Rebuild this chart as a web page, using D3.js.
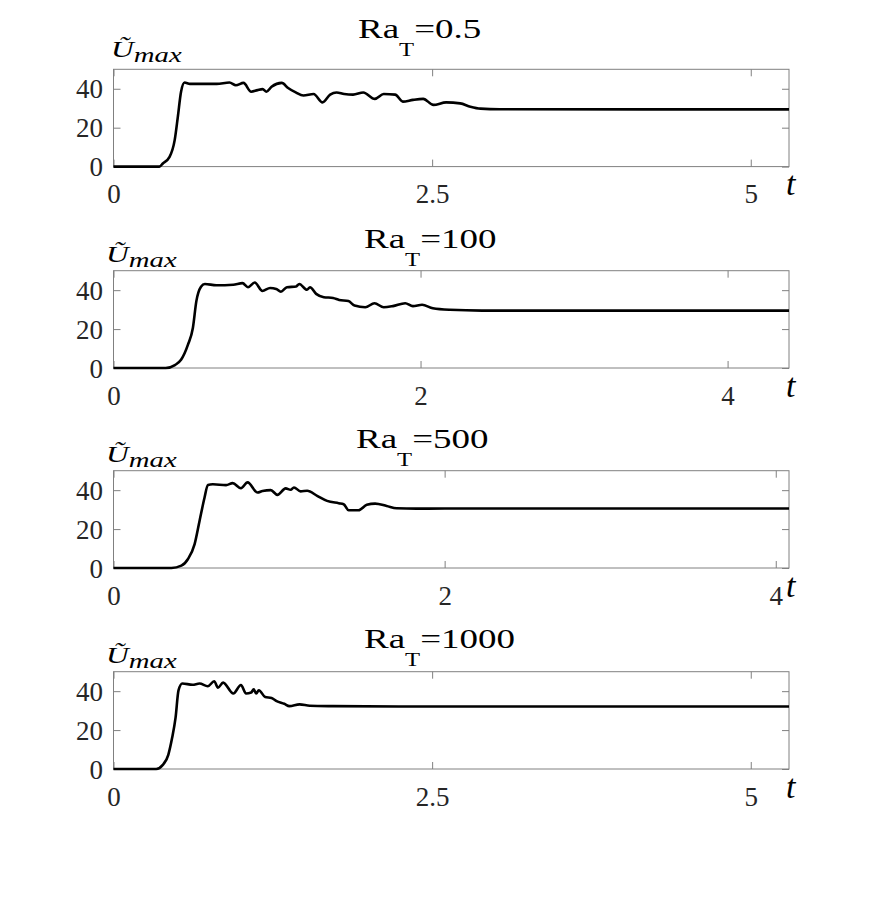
<!DOCTYPE html>
<html><head><meta charset="utf-8">
<script src="https://cdn.jsdelivr.net/npm/d3@7"></script>
<style>body{margin:0;background:#fff}svg{display:block}</style>
</head><body>
<script>
// ---- data ----
const titles = ["0.5", "100", "500", "1000"];
const xMax = [5.3, 4.4, 4.08, 5.3];
const xTicks = [[0, 2.5, 5], [0, 2, 4], [0, 2, 4], [0, 2.5, 5]];
const xTickLabels = [["0", "2.5", "5"], ["0", "2", "4"], ["0", "2", "4"], ["0", "2.5", "5"]];
const yTicks = [0, 20, 40];
const yTickLabels = ["0", "20", "40"];

const t1 = [0,0.36,0.387,0.44,0.48,0.505,0.53,0.558,0.6,0.81,0.91,0.96,1.02,1.08,1.13,1.17,1.2,1.24,1.32,1.37,1.43,1.49,1.57,1.64,1.70,1.75,1.81,1.88,1.96,2.05,2.12,2.21,2.27,2.35,2.43,2.51,2.61,2.72,2.80,2.88,3.03,5.3];
const u1 = [0,0,1.6,5,13.6,25.7,38.5,43.2,42.5,42.5,43.2,41.8,43,38.5,39.3,39.8,38.5,41,43,40.4,38.1,36.5,37.3,33,37,38.1,37.3,37,38.1,34.8,37.3,37,33.4,34.3,34.8,31.7,33,32.5,30.8,29.8,29.5,29.4];

const t2 = [0,0.34,0.40,0.44,0.485,0.517,0.54,0.57,0.595,0.67,0.78,0.84,0.876,0.92,0.97,1.02,1.06,1.09,1.13,1.19,1.21,1.26,1.28,1.32,1.37,1.43,1.47,1.53,1.57,1.64,1.70,1.76,1.82,1.90,1.95,2.01,2.08,2.19,2.4,4.4];
const u2 = [0,0,1.5,4.2,12,20.6,34.5,41.8,43.2,42.5,42.8,43.6,41.5,43.9,39.6,41.1,40.6,39.2,41.5,41.9,43.2,40.2,41.5,38.1,36.4,36,35,34.4,32.1,31.2,33.3,31.2,31.8,33.3,31.8,32.5,30.7,29.9,29.5,29.5];

const t3 = [0,0.35,0.41,0.45,0.49,0.52,0.55,0.57,0.60,0.68,0.72,0.77,0.81,0.87,0.90,0.95,0.99,1.04,1.07,1.09,1.13,1.17,1.23,1.29,1.36,1.39,1.42,1.48,1.53,1.58,1.65,1.71,1.83,2.0,4.08];
const u3 = [0,0,1.2,4.6,12.3,24.3,36.2,42.7,43,42.6,43.6,41,44,38.8,39.6,40,37.6,40.9,40.2,41.4,39.4,39.7,37.1,34.5,33.3,32.8,29.7,29.7,32.5,33.1,31.9,30.7,30.5,30.6,30.6];

const t4 = [0,0.335,0.387,0.43,0.46,0.487,0.51,0.54,0.62,0.675,0.74,0.79,0.82,0.86,0.94,1.0,1.04,1.08,1.10,1.12,1.14,1.19,1.24,1.28,1.34,1.38,1.46,1.54,1.72,2.24,5.3];
const u4 = [0,0,2.1,7.3,16,26.4,40.4,43.9,43.3,43.9,42.5,45.1,41.8,44.4,38.8,43.2,38.8,39.3,40.9,38.8,40.5,37,36.5,34.9,33.5,32.3,33.2,32.5,32.3,32.1,32.1];

const series = [[t1, u1], [t2, u2], [t3, u3], [t4, u4]];

// ---- layout ----
const W = 872, H = 917;
const left = 113.5, right = 789;
const tops = [69.3, 270.7, 470.7, 671.7];
const ph = 97.3;
const titleX = [358, 364, 356, 364];
const titleY = [38.3, 248, 448, 648];
const labelY = [56.5, 261.7, 461.7, 662.7];
const labelX = [111, 106, 106, 106];
const stretch = 1.37;
const axisColor = "#808080";
const serif = "'Liberation Serif','Times New Roman',serif";

const svg = d3.select("body").append("svg").attr("width", W).attr("height", H);

series.forEach(([ts, us], i) => {
  const top = tops[i], bottom = top + ph;
  const x = d3.scaleLinear().domain([0, xMax[i]]).range([left, right]);
  const y = d3.scaleLinear().domain([0, 50]).range([bottom, top]);
  const g = svg.append("g");

  // box
  g.append("rect").attr("x", left).attr("y", top).attr("width", right - left).attr("height", ph)
    .attr("fill", "none").attr("stroke", axisColor).attr("stroke-width", 1);

  // axes (inside ticks, mirrored)
  const fmtX = (d) => xTickLabels[i][xTicks[i].indexOf(d)];
  const fmtY = (d) => yTickLabels[yTicks.indexOf(d)];
  const axB = g.append("g").attr("transform", `translate(0,${bottom})`)
    .call(d3.axisBottom(x).tickValues(xTicks[i]).tickSize(-7).tickFormat(fmtX));
  const axT = g.append("g").attr("transform", `translate(0,${top})`)
    .call(d3.axisTop(x).tickValues(xTicks[i]).tickSize(-7).tickFormat(""));
  const axL = g.append("g").attr("transform", `translate(${left},0)`)
    .call(d3.axisLeft(y).tickValues(yTicks).tickSize(-7).tickPadding(10.5).tickFormat(fmtY));
  const axR = g.append("g").attr("transform", `translate(${right},0)`)
    .call(d3.axisRight(y).tickValues(yTicks).tickSize(-7).tickFormat(""));
  [axB, axT, axL, axR].forEach(a => {
    a.select(".domain").remove();
    a.selectAll("line").attr("stroke", axisColor);
    a.selectAll("text").attr("fill", "#262626").style("font-family", serif).style("font-size", "27px");
  });
  axL.selectAll("text").attr("dy", "0.34em");
  axB.selectAll("text").attr("y", 36.5).attr("dy", 0);

  // curve
  const line = d3.line().x((d, k) => x(ts[k])).y((d, k) => y(us[k])).curve(d3.curveMonotoneX);
  g.append("path").datum(us).attr("d", line).attr("fill", "none")
    .attr("stroke", "#000").attr("stroke-width", 2.6).attr("stroke-linejoin", "round");

  // title (horizontally stretched serif, as in the reference)
  const tt = g.append("text").attr("transform", `translate(${titleX[i]},${titleY[i]}) scale(${stretch},1)`)
    .style("font-family", serif).style("font-size", "27px").attr("fill", "#000");
  tt.append("tspan").text("Ra");
  tt.append("tspan").attr("dy", 18).style("font-size", "18px").text("T");
  tt.append("tspan").attr("dy", -18).text("=" + titles[i]);

  // y label
  const yl = g.append("text").attr("transform", `translate(${labelX[i]},${labelY[i]}) scale(${stretch},1)`)
    .style("font-family", serif).style("font-style", "italic").style("font-size", "23px").attr("fill", "#000");
  yl.append("tspan").text("\u0168");
  yl.append("tspan").attr("dy", 5).style("font-size", "21px").text("max");

  // x label
  g.append("text").attr("x", 786).attr("y", bottom + 28.5)
    .style("font-family", serif).style("font-style", "italic").style("font-size", "34px")
    .attr("fill", "#000").text("t");
});
</script>
</body></html>
